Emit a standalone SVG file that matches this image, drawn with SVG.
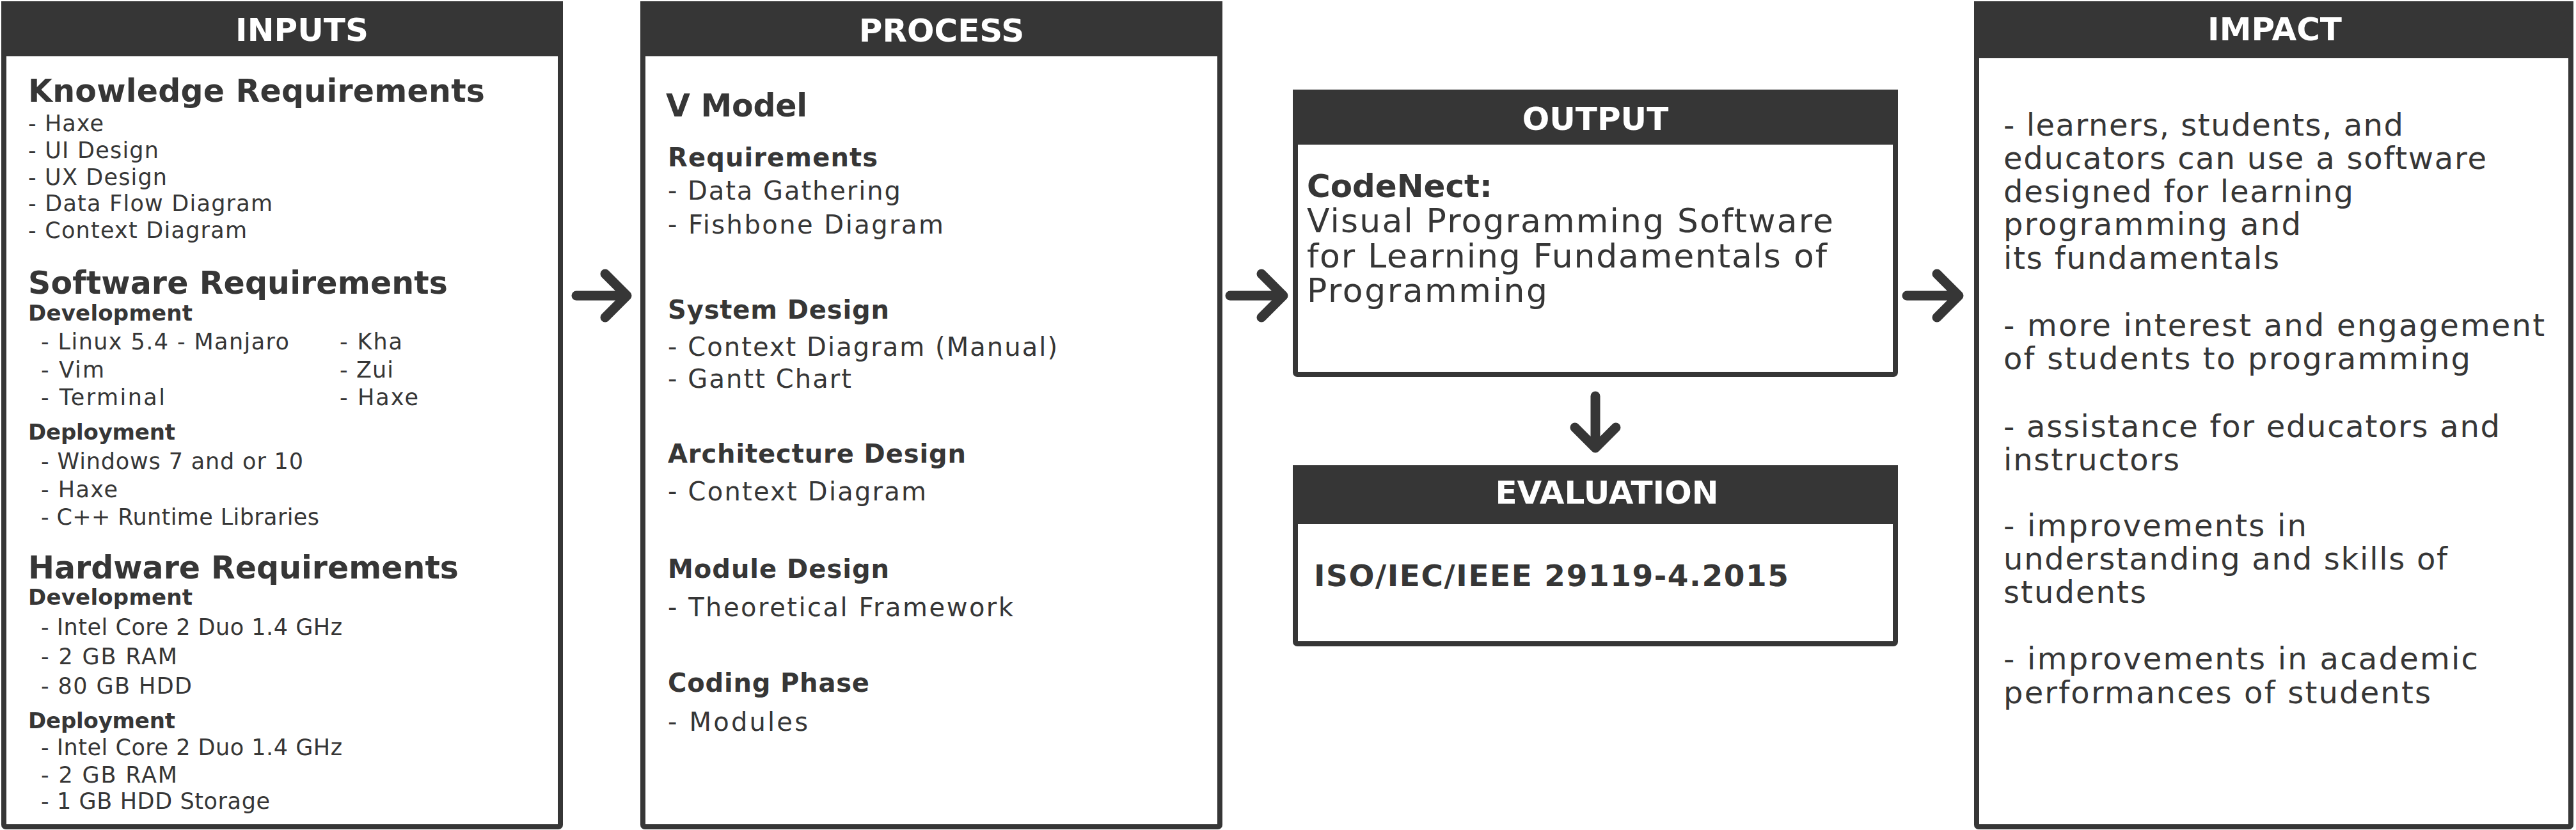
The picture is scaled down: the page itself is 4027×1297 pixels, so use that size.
<svg xmlns="http://www.w3.org/2000/svg" width="4027" height="1297" viewBox="0 0 4027 1297">
<style>
.box{fill:#fff;stroke:#363636;stroke-width:8}
.hdr{fill:#363636}
text{font-family:"DejaVu Sans","Liberation Sans",sans-serif;fill:#363636}
.ht{font-weight:bold;font-size:50px;fill:#fff;text-anchor:middle}
.h1{font-weight:bold;font-size:49px}
.h2{font-weight:bold;font-size:34px}
.it{font-size:35px}
.ph1{font-weight:bold;font-size:49px}
.ph2{font-weight:bold;font-size:40px}
.pit{font-size:40px}
.ob{font-weight:bold;font-size:50px}
.ot{font-size:52px}
.ev{font-weight:bold;font-size:47px}
.im{font-size:48px}
.arr{fill:none;stroke:#363636;stroke-width:15;stroke-linecap:round;stroke-linejoin:round}
</style>

<g id="inputs">
<rect class="box" x="6" y="6" width="870" height="1286" rx="3"/>
<rect class="hdr" x="2" y="2" width="878" height="86"/>
<text class="ht" x="472" y="64">INPUTS</text>
<text class="h1" x="44" y="159" textLength="714">Knowledge Requirements</text>
<text class="it" x="44" y="205" textLength="118">- Haxe</text>
<text class="it" x="44" y="247" textLength="204">- UI Design</text>
<text class="it" x="44" y="289" textLength="217">- UX Design</text>
<text class="it" x="44" y="330" textLength="382">- Data Flow Diagram</text>
<text class="it" x="44" y="372" textLength="342">- Context Diagram</text>
<text class="h1" x="44" y="459" textLength="656">Software Requirements</text>
<text class="h2" x="44" y="501" textLength="257">Development</text>
<text class="it" x="64" y="546" textLength="388">- Linux 5.4 - Manjaro</text>
<text class="it" x="64" y="590" textLength="99">- Vim</text>
<text class="it" x="64" y="633" textLength="194">- Terminal</text>
<text class="it" x="531" y="546" textLength="98">- Kha</text>
<text class="it" x="531" y="590" textLength="84">- Zui</text>
<text class="it" x="531" y="633" textLength="123">- Haxe</text>
<text class="h2" x="44" y="687" textLength="230">Deployment</text>
<text class="it" x="64" y="733" textLength="410">- Windows 7 and or 10</text>
<text class="it" x="64" y="777" textLength="120">- Haxe</text>
<text class="it" x="64" y="820" textLength="435">- C++ Runtime Libraries</text>
<text class="h1" x="44" y="904" textLength="673">Hardware Requirements</text>
<text class="h2" x="44" y="945" textLength="257">Development</text>
<text class="it" x="64" y="992" textLength="471">- Intel Core 2 Duo 1.4 GHz</text>
<text class="it" x="64" y="1038" textLength="213">- 2 GB RAM</text>
<text class="it" x="64" y="1084" textLength="236">- 80 GB HDD</text>
<text class="h2" x="44" y="1138" textLength="230">Deployment</text>
<text class="it" x="64" y="1180" textLength="471">- Intel Core 2 Duo 1.4 GHz</text>
<text class="it" x="64" y="1223" textLength="213">- 2 GB RAM</text>
<text class="it" x="64" y="1264" textLength="358">- 1 GB HDD Storage</text>
</g>

<g id="process">
<rect class="box" x="1005" y="6" width="902" height="1286" rx="3"/>
<rect class="hdr" x="1001" y="2" width="910" height="86"/>
<text class="ht" x="1472" y="65">PROCESS</text>
<text class="ph1" x="1041" y="182" textLength="221">V Model</text>
<text class="ph2" x="1044" y="260" textLength="328">Requirements</text>
<text class="pit" x="1044" y="312" textLength="364">- Data Gathering</text>
<text class="pit" x="1044" y="365" textLength="431">- Fishbone Diagram</text>
<text class="ph2" x="1044" y="498" textLength="346">System Design</text>
<text class="pit" x="1044" y="556" textLength="609">- Context Diagram (Manual)</text>
<text class="pit" x="1044" y="606" textLength="287">- Gantt Chart</text>
<text class="ph2" x="1044" y="723" textLength="466">Architecture Design</text>
<text class="pit" x="1044" y="782" textLength="404">- Context Diagram</text>
<text class="ph2" x="1044" y="903" textLength="346">Module Design</text>
<text class="pit" x="1044" y="963" textLength="540">- Theoretical Framework</text>
<text class="ph2" x="1044" y="1081" textLength="315">Coding Phase</text>
<text class="pit" x="1044" y="1142" textLength="219">- Modules</text>
</g>

<g id="output">
<rect class="box" x="2025" y="144" width="938" height="441" rx="3"/>
<rect class="hdr" x="2021" y="140" width="946" height="86"/>
<text class="ht" x="2494" y="203">OUTPUT</text>
<text class="ob" x="2043" y="308" textLength="290">CodeNect:</text>
<text class="ot" x="2043" y="363" textLength="823">Visual Programming Software</text>
<text class="ot" x="2043" y="418" textLength="813">for Learning Fundamentals of</text>
<text class="ot" x="2043" y="472" textLength="376">Programming</text>
</g>

<g id="evaluation">
<rect class="box" x="2025" y="731" width="938" height="275" rx="3"/>
<rect class="hdr" x="2021" y="727" width="946" height="92"/>
<text class="ht" x="2512" y="787">EVALUATION</text>
<text class="ev" x="2054" y="916" textLength="742">ISO/IEC/IEEE 29119-4.2015</text>
</g>

<g id="impact">
<rect class="box" x="3090" y="6" width="929" height="1286" rx="3"/>
<rect class="hdr" x="3086" y="2" width="937" height="89"/>
<text class="ht" x="3556" y="63">IMPACT</text>
<text class="im" x="3132" y="212" textLength="625">- learners, students, and</text>
<text class="im" x="3132" y="264" textLength="755">educators can use a software</text>
<text class="im" x="3132" y="316" textLength="547">designed for learning</text>
<text class="im" x="3132" y="367" textLength="465">programming and</text>
<text class="im" x="3132" y="420" textLength="431">its fundamentals</text>
<text class="im" x="3132" y="525" textLength="846">- more interest and engagement</text>
<text class="im" x="3132" y="577" textLength="730">of students to programming</text>
<text class="im" x="3132" y="683" textLength="776">- assistance for educators and</text>
<text class="im" x="3132" y="735" textLength="275">instructors</text>
<text class="im" x="3132" y="838" textLength="474">- improvements in</text>
<text class="im" x="3132" y="890" textLength="694">understanding and skills of</text>
<text class="im" x="3132" y="942" textLength="223">students</text>
<text class="im" x="3132" y="1046" textLength="742">- improvements in academic</text>
<text class="im" x="3132" y="1099" textLength="668">performances of students</text>
</g>

<g id="connectors">
<path class="arr" d="M901 462H980M946 428L980 462L946 496"/>
<path class="arr" d="M1923 462H2006M1972 428L2006 462L1972 496"/>
<path class="arr" d="M2981 462H3062M3028 428L3062 462L3028 496"/>
<path class="arr" d="M2494 619V700M2462 668L2494 700L2526 668"/>
</g>
</svg>
